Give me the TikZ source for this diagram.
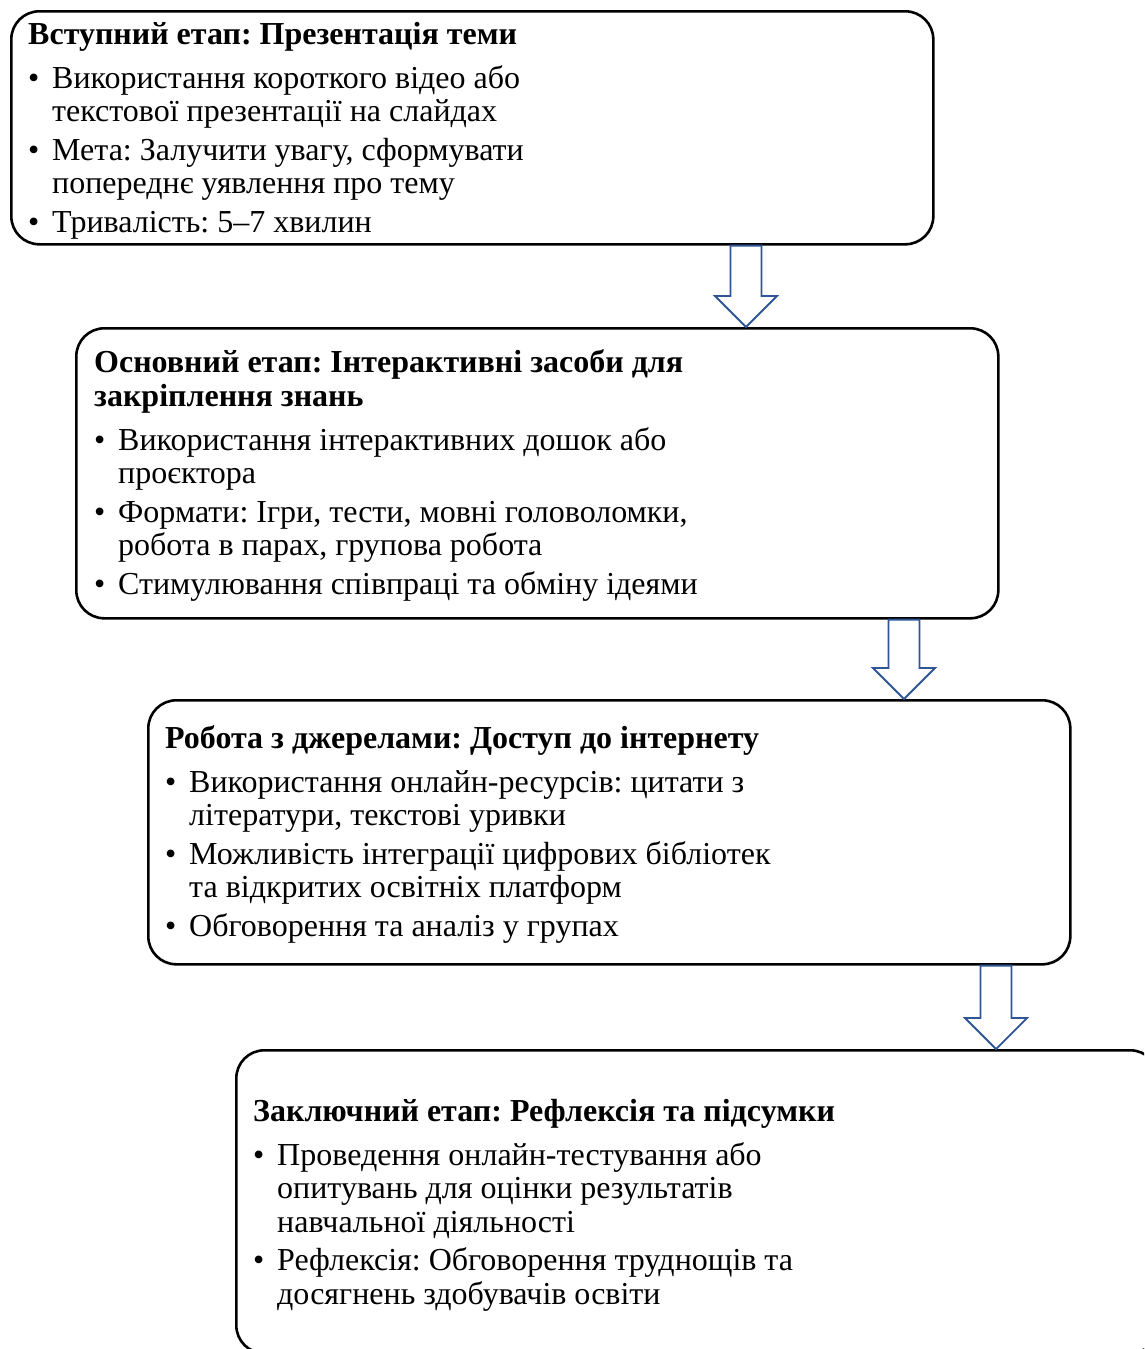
\documentclass[tikz,border=0pt]{standalone}
\usepackage{fontspec}
\setmainfont{Liberation Serif}
\usetikzlibrary{calc}
\definecolor{arrowblue}{HTML}{2F5597}
\newcommand\bitem[1]{\makebox[24pt][l]{•}#1}
\newcommand\bcont[1]{\hspace*{24pt}#1}
\tikzset{
  stage/.style={draw, line width=2.6pt, rounded corners=28pt, anchor=north west, inner sep=0pt, minimum width=922pt},
  txt/.style={anchor=base west, align=left, inner sep=0pt, font=\fontsize{32}{33.5}\selectfont\frenchspacing},
  blockarrow/.style={draw=arrowblue, line width=1.8pt, fill=white, line join=miter}
}
\begin{document}
\begin{tikzpicture}[x=1pt,y=1pt]
\useasboundingbox (0,0) rectangle (1144,-1349);
\clip (0,0) rectangle (1144,-1349);
% boxes
\node[stage, minimum height=233pt] (b1) at (10,-10) {};
\node[stage, minimum height=290pt] (b2) at (75,-327) {};
\node[stage, minimum height=264pt] (b3) at (147,-699) {};
\node[stage, minimum height=303pt] (b4) at (235,-1049) {};
% texts (anchored at the baseline of the last line)
\node[txt] (t1) at ($(b1.north west)+(18,-222)$) {\textbf{Вступний етап: Презентація теми}\\[10.5pt]
\bitem{Використання короткого відео або}\\
\bcont{текстової презентації на слайдах}\\[5pt]
\bitem{Мета: Залучити увагу, сформувати}\\
\bcont{попереднє уявлення про тему}\\[5pt]
\bitem{Тривалість: 5–7 хвилин}};
\node[txt] (t2) at ($(b2.north west)+(19,-267)$) {\textbf{Основний етап: Інтерактивні засоби для}\\
\textbf{закріплення знань}\\[10.5pt]
\bitem{Використання інтерактивних дошок або}\\
\bcont{проєктора}\\[5pt]
\bitem{Формати: Ігри, тести, мовні головоломки,}\\
\bcont{робота в парах, групова робота}\\[5pt]
\bitem{Стимулювання співпраці та обміну ідеями}};
\node[txt] (t3) at ($(b3.north west)+(18,-237)$) {\textbf{Робота з джерелами: Доступ до інтернету}\\[10.5pt]
\bitem{Використання онлайн-ресурсів: цитати з}\\
\bcont{літератури, текстові уривки}\\[5pt]
\bitem{Можливість інтеграції цифрових бібліотек}\\
\bcont{та відкритих освітніх платформ}\\[5pt]
\bitem{Обговорення та аналіз у групах}};
\node[txt] (t4) at ($(b4.north west)+(18,-255)$) {\textbf{Заключний етап: Рефлексія та підсумки}\\[10.5pt]
\bitem{Проведення онлайн-тестування або}\\
\bcont{опитувань для оцінки результатів}\\
\bcont{навчальної діяльності}\\[5pt]
\bitem{Рефлексія: Обговорення труднощів та}\\
\bcont{досягнень здобувачів освіти}};
% block arrows
\coordinate (x1) at (746,0);
\coordinate (x2) at (904,0);
\coordinate (x3) at (996,0);
\coordinate (s1) at (b1.south -| x1); \coordinate (e1) at (b2.north -| x1);
\coordinate (s2) at (b2.south -| x2); \coordinate (e2) at (b3.north -| x2);
\coordinate (s3) at (b3.south -| x3); \coordinate (e3) at (b4.north -| x3);
\foreach \s/\e in {s1/e1,s2/e2,s3/e3}{
  \draw[blockarrow] ($(\s)+(-15.5,0)$) -- ($(\s)+(15.5,0)$) -- ($(\e)+(15.5,31)$) -- ($(\e)+(31,31)$)
    -- (\e) -- ($(\e)+(-31,31)$) -- ($(\e)+(-15.5,31)$) -- cycle;
}
\end{tikzpicture}
\end{document}
